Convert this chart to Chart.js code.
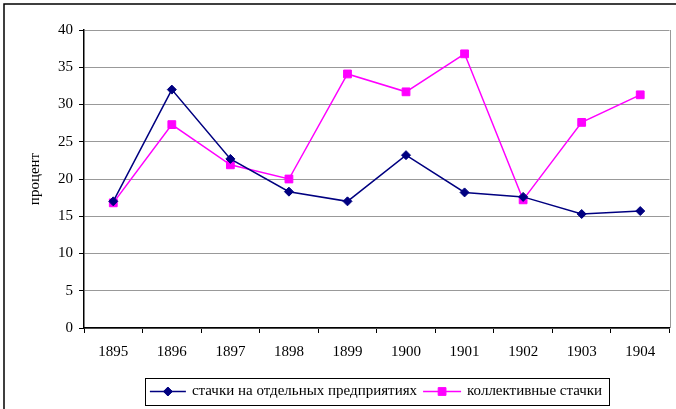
<!DOCTYPE html>
<html>
<head>
<meta charset="utf-8">
<script src="https://cdn.jsdelivr.net/npm/chart.js@4.4.0/dist/chart.umd.min.js"></script>
<style>
  html, body { margin: 0; padding: 0; background: #fff; }
  #box { width: 676px; height: 409px; position: relative; }
</style>
</head>
<body>
<div id="box"><canvas id="myChart"></canvas></div>
<script>
'use strict';
// data
let years = ['1895', '1896', '1897', '1898', '1899', '1900', '1901', '1902', '1903', '1904'];
let singleStrikes = [17.0, 32.0, 22.7, 18.3, 17.0, 23.2, 18.2, 17.6, 15.3, 15.7];
let collectiveStrikes = [16.8, 27.3, 21.9, 20.0, 34.1, 31.7, 36.8, 17.2, 27.6, 31.3];
let seriesNames = ['стачки на отдельных предприятиях', 'коллективные стачки'];
let yTitle = 'процент';
let yMin = 0;
let yMax = 40;
let yStep = 5;

const serif = '"Liberation Serif", "Times New Roman", serif';
Chart.defaults.font.family = serif;
Chart.defaults.font.size = 15;
Chart.defaults.color = '#000';

// outer frame and the right edge of the plot
const frame = {
  id: 'frame',
  afterDraw(chart) {
    const ctx = chart.ctx;
    const area = chart.chartArea;
    ctx.save();
    ctx.strokeStyle = '#999';
    ctx.lineWidth = 1;
    ctx.beginPath();
    ctx.moveTo(Math.round(area.right) + 0.5, area.top);
    ctx.lineTo(Math.round(area.right) + 0.5, area.bottom);
    ctx.stroke();
    ctx.strokeStyle = '#000';
    ctx.lineWidth = 1.5;
    ctx.beginPath();
    ctx.moveTo(4, 409);
    ctx.lineTo(4, 4);
    ctx.lineTo(676, 4);
    ctx.stroke();
    ctx.restore();
  }
};

// legend with line + marker samples inside a box
const legendBox = {
  id: 'legendBox',
  afterDraw(chart) {
    const ctx = chart.ctx;
    const sets = chart.data.datasets;
    let lineLen = [36, 38];
    ctx.save();
    ctx.font = '15px ' + serif;
    let widths = sets.map(ds => ctx.measureText(ds.label).width);
    let total = 0;
    for (let i = 0; i < sets.length; i++) {
      total += lineLen[i] + 6 + widths[i];
    }
    total += 6 * (sets.length - 1);
    let x = 376 - total / 2;
    let y = 391.5;
    ctx.strokeStyle = '#000';
    ctx.lineWidth = 1;
    ctx.strokeRect(Math.round(x - 5) + 0.5, 378.5, Math.round(total + 12), 27);
    sets.forEach((ds, i) => {
      ctx.strokeStyle = ds.borderColor;
      ctx.lineWidth = ds.borderWidth;
      ctx.beginPath();
      ctx.moveTo(x, y);
      ctx.lineTo(x + lineLen[i], y);
      ctx.stroke();
      ctx.fillStyle = ds.pointBackgroundColor;
      ctx.strokeStyle = ds.pointBorderColor;
      ctx.lineWidth = 1;
      Chart.helpers.drawPoint(ctx, {pointStyle: ds.pointStyle, radius: ds.pointRadius, rotation: 0, borderWidth: 1}, x + lineLen[i] / 2, y);
      ctx.fillStyle = '#000';
      ctx.textBaseline = 'middle';
      ctx.textAlign = 'left';
      ctx.fillText(ds.label, x + lineLen[i] + 6, y);
      x += lineLen[i] + 6 + widths[i] + 6;
    });
    ctx.restore();
  }
};

let ctx = document.getElementById('myChart');
let myChart = new Chart(ctx, {
  type: 'line',
  data: {
    labels: years,
    datasets: [{
      label: seriesNames[0],
      data: singleStrikes,
      borderColor: '#000080',
      backgroundColor: '#000080',
      pointBackgroundColor: '#000080',
      pointBorderColor: '#000080',
      borderWidth: 1.5,
      pointStyle: 'rectRot',
      pointRadius: 4.5,
      pointBorderWidth: 1,
      tension: 0
    },
    {
      label: seriesNames[1],
      data: collectiveStrikes,
      borderColor: '#ff00ff',
      backgroundColor: '#ff00ff',
      pointBackgroundColor: '#ff00ff',
      pointBorderColor: '#ff00ff',
      borderWidth: 1.5,
      pointStyle: 'rect',
      pointRadius: 5.5,
      pointBorderWidth: 1,
      tension: 0
    }]
  },
  options: {
    responsive: true,
    maintainAspectRatio: false,
    animation: false,
    layout: {
      padding: {left: 0, right: 4, top: 30, bottom: 51}
    },
    plugins: {
      legend: {display: false},
      tooltip: {enabled: false}
    },
    scales: {
      x: {
        offset: true,
        grid: {
          offset: true,
          drawOnChartArea: false,
          tickLength: 5,
          tickColor: '#000'
        },
        border: {color: '#000', width: 1.5},
        ticks: {padding: 10, maxRotation: 0, color: '#000'},
        afterFit(scale) { scale.height = 30; }
      },
      y: {
        min: yMin,
        max: yMax,
        ticks: {stepSize: yStep, padding: 6, color: '#000'},
        grid: {color: '#999', tickLength: 5, tickColor: '#000'},
        border: {color: '#000', width: 1.5},
        title: {
          display: true,
          text: yTitle,
          color: '#000',
          font: {size: 15},
          padding: {top: 26, bottom: 0}
        },
        afterFit(scale) { scale.width = 84; }
      }
    }
  },
  plugins: [frame, legendBox]
});
</script>
</body>
</html>
